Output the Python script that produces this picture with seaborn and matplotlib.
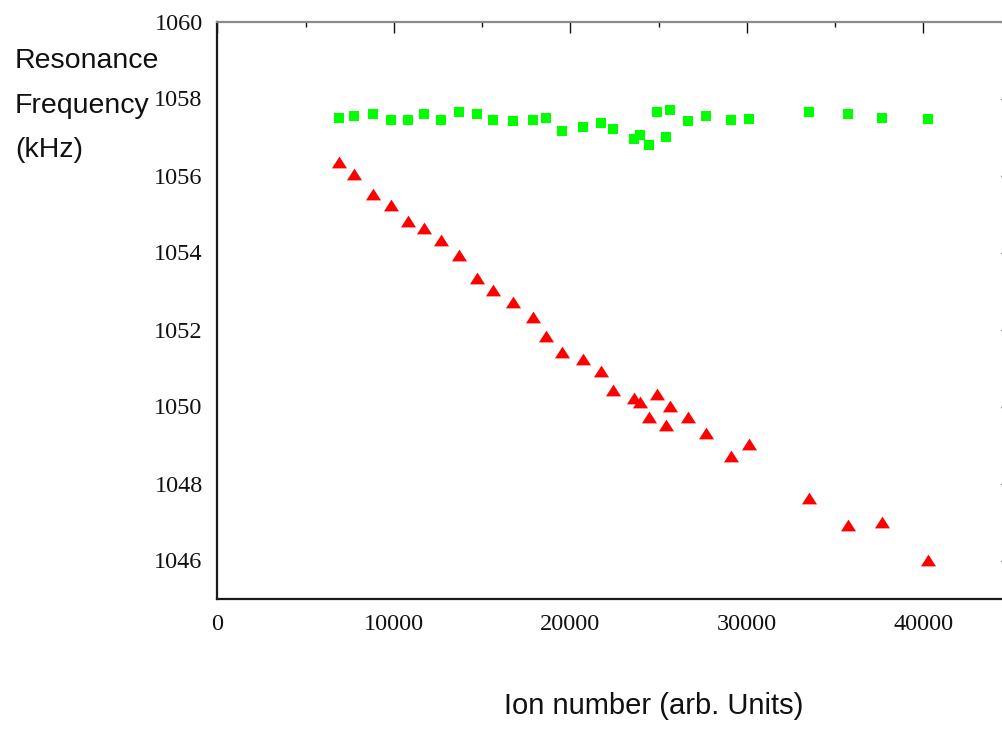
import numpy as np
import pandas as pd
import matplotlib
matplotlib.use("Agg")
import matplotlib.pyplot as plt
from matplotlib.ticker import MultipleLocator
import seaborn as sns

# Ion number (arb. units) shared by both series
ion_number = [6880, 7770, 8810, 9830, 10820, 11730, 12670, 13720, 14700, 15640,
              16760, 17900, 18650, 19540, 20730, 21710, 22430, 23600, 23950, 24450,
              24910, 25400, 25640, 26680, 27680, 29120, 30140, 33510, 35720, 37660,
              40250]

# Resonance frequency (kHz), upper series (green squares)
freq_upper = [1057.50, 1057.55, 1057.61, 1057.45, 1057.45, 1057.61, 1057.45, 1057.65,
              1057.61, 1057.45, 1057.41, 1057.45, 1057.50, 1057.15, 1057.26, 1057.36,
              1057.20, 1056.94, 1057.04, 1056.80, 1057.65, 1056.99, 1057.69, 1057.41,
              1057.55, 1057.45, 1057.46, 1057.65, 1057.60, 1057.50, 1057.46]

# Resonance frequency (kHz), lower series (red triangles)
freq_lower = [1056.34, 1056.03, 1055.53, 1055.23, 1054.83, 1054.63, 1054.32, 1053.93,
              1053.34, 1053.03, 1052.72, 1052.33, 1051.83, 1051.42, 1051.23, 1050.93,
              1050.43, 1050.21, 1050.12, 1049.72, 1050.32, 1049.52, 1050.02, 1049.72,
              1049.32, 1048.72, 1049.03, 1047.62, 1046.92, 1047.01, 1046.01]

x_ticks = [0, 10000, 20000, 30000, 40000]
y_ticks = [1046, 1048, 1050, 1052, 1054, 1056, 1058, 1060]

df_upper = pd.DataFrame({"ions": ion_number, "freq": freq_upper})
df_lower = pd.DataFrame({"ions": ion_number, "freq": freq_lower})

sns.set_style("white")

W, H = 1003, 730
fig = plt.figure(figsize=(W / 100, H / 100), dpi=100)
left_px, right_px, top_px, bottom_px = 217.3, 1011.6, 21.5, 599.0
ax = fig.add_axes([left_px / W, 1 - bottom_px / H,
                   (right_px - left_px) / W, (bottom_px - top_px) / H])

# squat triangle marker
tri = [(-1.0, -0.78), (1.0, -0.78), (0.0, 0.78), (-1.0, -0.78)]

sns.scatterplot(data=df_upper, x="ions", y="freq", ax=ax, marker="s",
                s=60, color="#00ff00", linewidth=0, zorder=3)
sns.scatterplot(data=df_lower, x="ions", y="freq", ax=ax, marker=tri,
                s=118, color="#ff0000", linewidth=0, zorder=3)

ax.set_xlim(0, 45000)
ax.set_ylim(1045, 1060)
ax.set_xticks(x_ticks)
ax.set_yticks(y_ticks)
ax.xaxis.set_minor_locator(MultipleLocator(5000))
ax.yaxis.set_minor_locator(MultipleLocator(1))

ax.tick_params(which="both", direction="in", top=True, right=True,
               color="#111111", width=1.0)
ax.tick_params(which="major", length=7.6, pad=10.5, labelsize=17.5,
               labelcolor="#111111", labelfontfamily="Liberation Serif")
ax.tick_params(which="minor", length=3.6)

for side in ["left", "bottom"]:
    ax.spines[side].set_color("#1a1a1a")
    ax.spines[side].set_linewidth(1.6)
for side in ["top", "right"]:
    ax.spines[side].set_color("#8a8a8a")
    ax.spines[side].set_linewidth(1.6)

ax.set_xlabel("Ion number (arb. Units)", family="Liberation Sans", fontsize=21,
              color="#111111", ha="center", va="top")
ax.xaxis.set_label_coords((654 - left_px) / (right_px - left_px),
                          (bottom_px - 692) / (bottom_px - top_px))

ax.set_ylabel("Resonance\nFrequency\n(kHz)", family="Liberation Sans", fontsize=20.5,
              color="#111111", rotation=0, ha="left", va="top",
              multialignment="left", linespacing=1.93)
ax.yaxis.set_label_coords((15 - left_px) / (right_px - left_px),
                          (bottom_px - 48) / (bottom_px - top_px))

fig.savefig("out.png", dpi=100, facecolor="white")
